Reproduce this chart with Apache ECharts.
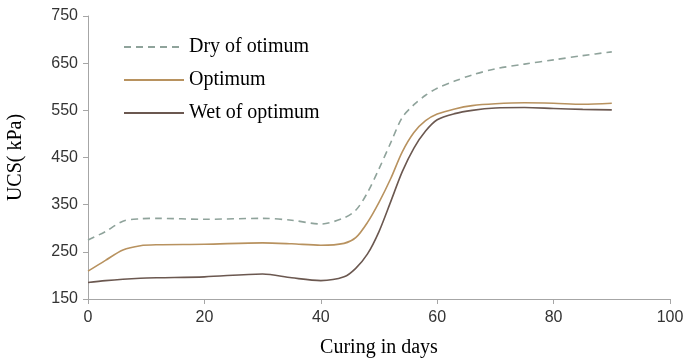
<!DOCTYPE html>
<html>
<head>
<meta charset="utf-8">
<script src="https://cdn.jsdelivr.net/npm/echarts@6/dist/echarts.min.js"></script>
<style>
  html, body { margin: 0; padding: 0; background: #fff; }
  #chart { width: 687px; height: 360px; }
</style>
</head>
<body>
<div id="chart"></div>
<script>
// Unconfined compressive strength against curing time, three moisture states
const seriesNames = ['Dry of otimum', 'Optimum', 'Wet of optimum'];

// Curing days shared by all three curves
const days = [0, 3, 6, 9, 12, 20, 30, 35, 40, 44, 46, 48, 50, 52, 54, 56, 58, 60, 63, 66, 70, 75, 80, 85, 90];

// UCS in kPa
const dryUcs = [275, 293, 315, 320, 321, 319, 321, 317, 309, 322, 338, 375, 426, 481, 535, 562, 582, 597, 612, 625, 638, 648, 657, 666, 674];
const optUcs = [209, 232, 254, 263, 265, 266, 269, 267, 264, 268, 280, 312, 355, 405, 462, 503, 528, 542, 553, 560, 564, 566, 565, 563, 565];
const wetUcs = [185, 189, 192, 194, 195, 197, 203, 195, 189, 197, 215, 245, 293, 356, 420, 470, 506, 530, 543, 550, 555, 556, 554, 552, 551];

const xTicks = { min: 0, max: 100, interval: 20 };
const yTicks = { min: 150, max: 750, interval: 100 };

const colors = ['#8fa39b', '#b8925f', '#6b5850'];

const zip = (xs, ys) => xs.map((x, i) => [x, ys[i]]);

const chart = echarts.init(document.getElementById('chart'));
const axisGrey = '#a6a6a6';
const sans = 'Liberation Sans, Arial, sans-serif';
const serif = 'Liberation Serif, Times New Roman, serif';
const tickFont = { fontFamily: sans, fontSize: 16, color: '#333' };
const titleFont = { fontFamily: serif, fontSize: 20, color: '#000' };

function lineSeries(i, values, extra) {
  return {
    name: seriesNames[i], type: 'line', smooth: 0.3, symbol: 'none',
    data: zip(days, values),
    lineStyle: Object.assign({ color: colors[i], width: 1.6 }, extra || {}),
    itemStyle: { color: colors[i] }
  };
}

chart.setOption({
  animation: false,
  grid: { left: 88, right: 17, top: 16, bottom: 61, containLabel: false, outerBoundsMode: 'none' },
  legend: {
    orient: 'vertical',
    left: 118,
    top: 32,
    itemWidth: 60,
    itemHeight: 14,
    itemGap: 13,
    itemStyle: { opacity: 0 },
    textStyle: { fontFamily: serif, fontSize: 20, color: '#000' },
    data: seriesNames
  },
  xAxis: {
    type: 'value',
    min: xTicks.min, max: xTicks.max, interval: xTicks.interval,
    name: 'Curing in days',
    nameLocation: 'middle',
    nameGap: 39,
    nameTextStyle: titleFont,
    axisLine: { show: true, lineStyle: { color: axisGrey, width: 1 } },
    axisTick: { show: true, length: 5, lineStyle: { color: axisGrey } },
    axisLabel: Object.assign({ margin: 11 }, tickFont),
    splitLine: { show: false }
  },
  yAxis: {
    type: 'value',
    min: yTicks.min, max: yTicks.max, interval: yTicks.interval,
    name: 'UCS( kPa)',
    nameLocation: 'middle',
    nameGap: 62,
    nameRotate: 90,
    nameTextStyle: titleFont,
    axisLine: { show: true, lineStyle: { color: axisGrey, width: 1 } },
    axisTick: { show: true, length: 5, lineStyle: { color: axisGrey } },
    axisLabel: Object.assign({ margin: 10 }, tickFont),
    splitLine: { show: false }
  },
  series: [
    lineSeries(0, dryUcs, { type: [7, 5] }),
    lineSeries(1, optUcs),
    lineSeries(2, wetUcs)
  ]
});
</script>
</body>
</html>
